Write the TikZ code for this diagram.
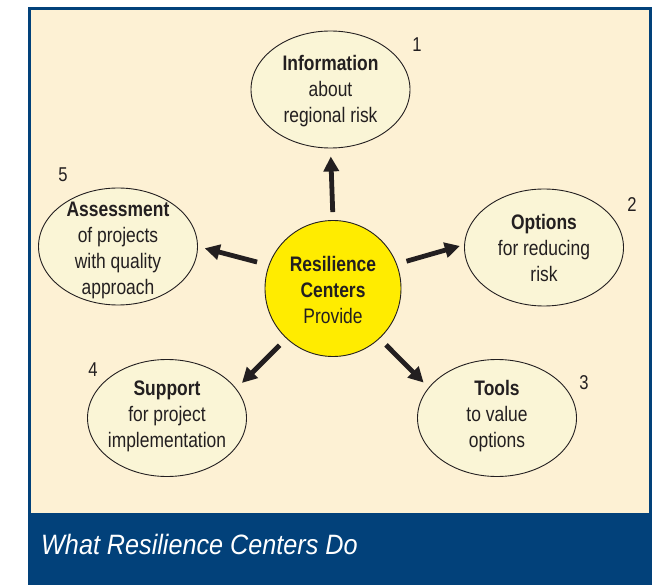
\documentclass[tikz,border=0pt]{standalone}
\usepackage{fontspec}
\setmainfont{Liberation Sans}[FakeStretch=0.83]
\newfontfamily\captionfont{Liberation Sans}[FakeStretch=0.9]
\usetikzlibrary{shapes.geometric,arrows.meta}
\definecolor{panelbg}{HTML}{FDF1D4}
\definecolor{bubblefill}{HTML}{FAF5D6}
\definecolor{navy}{HTML}{02417A}
\definecolor{hubyellow}{HTML}{FFEC00}
\definecolor{ink}{HTML}{231F20}

\begin{document}
\begin{tikzpicture}[x=1pt,y=-1pt,
  bubble/.style={ellipse, draw=ink, line width=0.9pt, fill=bubblefill,
    minimum width=159pt, minimum height=117pt, inner sep=0pt},
  bubbletext/.style={align=center, text=ink, inner sep=0pt,
    font=\fontsize{21}{26}\selectfont},
  hub/.style={circle, draw=ink, line width=0.9pt, fill=hubyellow,
    minimum size=136pt, inner sep=0pt},
  num/.style={text=ink, inner sep=0pt, font=\fontsize{20}{22}\selectfont},
  push/.style={draw=ink, line width=4.8pt, -{Triangle[length=15pt,width=15pt]}},
]
\useasboundingbox (0,0) rectangle (672,585);

% panel and caption band
\fill[panelbg] (29,8.5) rectangle (651,513);
\fill[navy] (28,512.7) rectangle (652,585);
\draw[navy, line width=2.6pt] (29.3,586) -- (29.3,8.6) -- (650.7,8.6) -- (650.7,586);
\node[anchor=base west, inner sep=0pt, text=white,
  font=\captionfont\itshape\fontsize{28}{30}\selectfont] (caption) at (41,554)
  {What Resilience Centers Do};

% hub
\node[hub] (hub) at (333,288.5) {};
\node[bubbletext] (hubtext) at ([yshift=-1pt]hub.center) {\textbf{Resilience}\\\textbf{Centers}\\Provide};

% surrounding bubbles
\node[bubble] (info) at (330.5,89.5) {};
\node[bubbletext] (infotext) at ([yshift=-2pt]info.center) {\textbf{Information}\\about\\regional risk};
\node[num] (n1) at (417,45) {1};

\node[bubble] (opt) at (544,247.5) {};
\node[bubbletext] (opttext) at (opt.center) {\textbf{Options}\\for reducing\\risk};
\node[num] (n2) at (632,205) {2};

\node[bubble] (tools) at (497,418) {};
\node[bubbletext] (toolstext) at ([yshift=2pt]tools.center) {\textbf{Tools}\\to value\\options};
\node[num] (n3) at (584,383) {3};

\node[bubble] (sup) at (167,418) {};
\node[bubbletext] (suptext) at ([yshift=1.5pt]sup.center) {\textbf{Support}\\for project\\implementation};
\node[num] (n4) at (93,370) {4};

\node[bubble] (assess) at (118,246.5) {};
\node[bubbletext] (assesstext) at ([yshift=-3.5pt]assess.center) {\textbf{Assessment}\\of projects\\with quality\\approach};
\node[num] (n5) at (63,175) {5};

% arrows out of the hub
\draw[push, shorten <=8pt, shorten >=8pt] (hub.north) -- (info.south);
\draw[push, shorten <=10pt, shorten >=4.5pt] (hub.21) -- (opt.178);
\draw[push, shorten <=9pt, shorten >=7pt] (hub.-47) -- (tools.156);
\draw[push, shorten <=9.5pt, shorten >=8pt] (hub.-133) -- (sup.23.5);
\draw[push, shorten <=12pt, shorten >=7pt] (hub.160) -- (assess.east);
\end{tikzpicture}
\end{document}
